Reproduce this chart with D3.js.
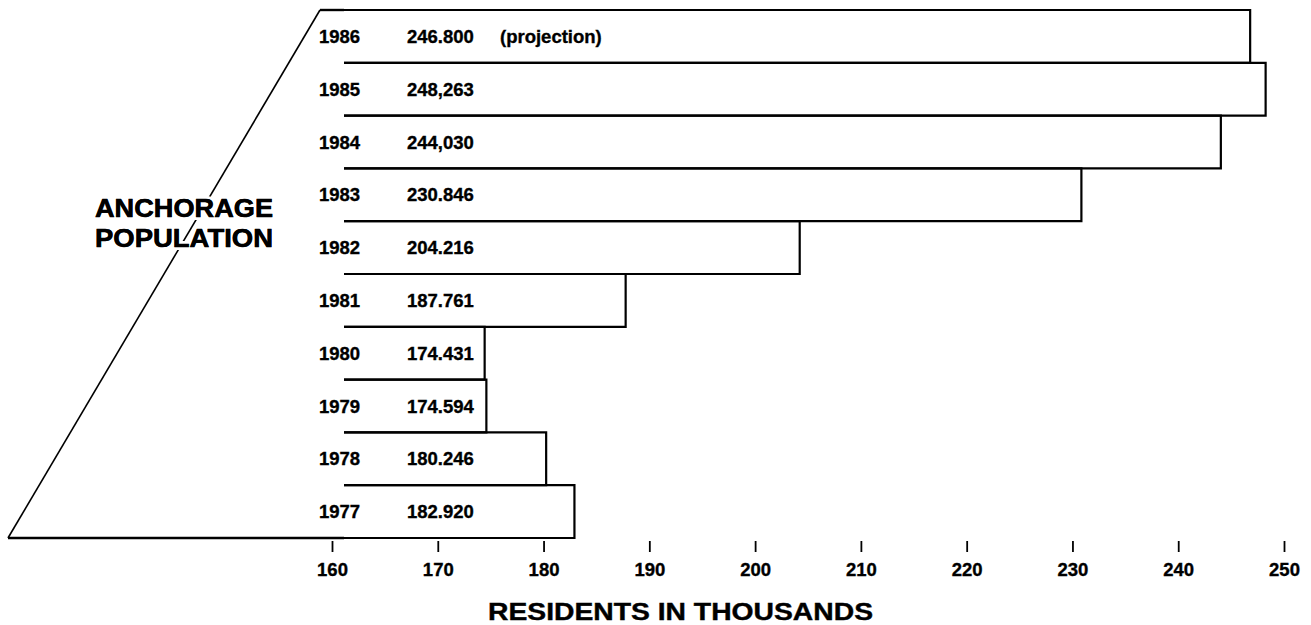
<!DOCTYPE html>
<html>
<head>
<meta charset="utf-8">
<script src="https://cdn.jsdelivr.net/npm/d3@7"></script>
<style>
  html, body { margin: 0; padding: 0; background: #fff; }
  svg { display: block; }
  text { font-family: "Liberation Sans", Arial, Helvetica, sans-serif; font-weight: bold; fill: #000; }
</style>
</head>
<body>
<svg id="chart" width="1311" height="625"></svg>
<script>
// ---- data ----
const years = ["1986", "1985", "1984", "1983", "1982", "1981", "1980", "1979", "1978", "1977"];
const values = [246.800, 248.263, 244.030, 230.846, 204.216, 187.761, 174.431, 174.594, 180.246, 182.920];
const valueLabels = ["246.800", "248,263", "244,030", "230.846", "204.216", "187.761", "174.431", "174.594", "180.246", "182.920"];
const notes = ["(projection)", "", "", "", "", "", "", "", "", ""];
const tickValues = [160, 170, 180, 190, 200, 210, 220, 230, 240, 250];
const sideTitle = ["ANCHORAGE", "POPULATION"];
const axisTitle = "RESIDENTS IN THOUSANDS";

// ---- layout ----
const svg = d3.select("#chart");
const x = d3.scaleLinear().domain([160, 250]).range([332, 1284]);
const y = d3.scaleBand().domain(years).range([10, 538]).padding(0);
const barStart = 344;
const diagTop = [320, y.range()[0]];
const diagBottom = [8, y.range()[1]];

// diagonal
svg.append("line")
  .attr("x1", diagBottom[0]).attr("y1", diagBottom[1])
  .attr("x2", diagTop[0]).attr("y2", diagTop[1])
  .attr("stroke", "#000").attr("stroke-width", 1.6);

// top and bottom closing lines
svg.append("line")
  .attr("x1", diagTop[0]).attr("y1", diagTop[1])
  .attr("x2", barStart).attr("y2", diagTop[1])
  .attr("stroke", "#000").attr("stroke-width", 2.4);
svg.append("line")
  .attr("x1", diagBottom[0]).attr("y1", diagBottom[1])
  .attr("x2", barStart).attr("y2", diagBottom[1])
  .attr("stroke", "#000").attr("stroke-width", 2.4);

// bars (open on the left)
const bars = svg.append("g");
years.forEach((yr, i) => {
  const y0 = y(yr), y1 = y(yr) + y.bandwidth();
  const xe = x(values[i]);
  bars.append("path")
    .attr("d", `M${barStart},${y0}H${xe}V${y1}H${barStart}`)
    .attr("fill", "none")
    .attr("stroke", "#000")
    .attr("stroke-width", 2.2)
    .attr("stroke-linejoin", "miter");
});

// labels inside bars
const lab = svg.append("g").attr("font-size", 18.5)
  .attr("stroke", "#000").attr("stroke-width", 0.35);
years.forEach((yr, i) => {
  const cy = y(yr) + y.bandwidth() / 2 + 6.5;
  lab.append("text").attr("x", 319).attr("y", cy).text(yr);
  lab.append("text").attr("x", 407).attr("y", cy).text(valueLabels[i]);
  if (notes[i]) lab.append("text").attr("x", 500).attr("y", cy).text(notes[i]);
});

// axis
const axis = d3.axisBottom(x).tickValues(tickValues).tickSize(11).tickPadding(11).tickFormat(d3.format("d"));
const ag = svg.append("g").attr("transform", "translate(0,541)").call(axis);
ag.select(".domain").remove();
ag.selectAll(".tick line").attr("stroke", "#000").attr("stroke-width", 1.8);
ag.selectAll(".tick text")
  .attr("font-size", 18.5)
  .attr("font-family", "'Liberation Sans', Arial, sans-serif")
  .attr("font-weight", "bold")
  .attr("fill", "#000")
  .attr("stroke", "#000").attr("stroke-width", 0.35);

// axis title
svg.append("text")
  .attr("x", 488).attr("y", 620)
  .attr("font-size", 23.5)
  .attr("textLength", 385)
  .attr("lengthAdjust", "spacingAndGlyphs")
  .attr("stroke", "#000").attr("stroke-width", 0.4)
  .text(axisTitle);

// side title with white halo so diagonal breaks around it
const st = svg.append("g").attr("font-size", 26);
sideTitle.forEach((t, i) => {
  st.append("text")
    .attr("x", 273).attr("y", 217 + i * 30)
    .attr("text-anchor", "end")
    .attr("textLength", 178)
    .attr("lengthAdjust", "spacingAndGlyphs")
    .attr("stroke", "#fff").attr("stroke-width", 6)
    .attr("paint-order", "stroke")
    .text(t);
  st.append("text")
    .attr("x", 273).attr("y", 217 + i * 30)
    .attr("text-anchor", "end")
    .attr("textLength", 178)
    .attr("lengthAdjust", "spacingAndGlyphs")
    .attr("stroke", "#000").attr("stroke-width", 0.5)
    .text(t);
});
</script>
</body>
</html>
